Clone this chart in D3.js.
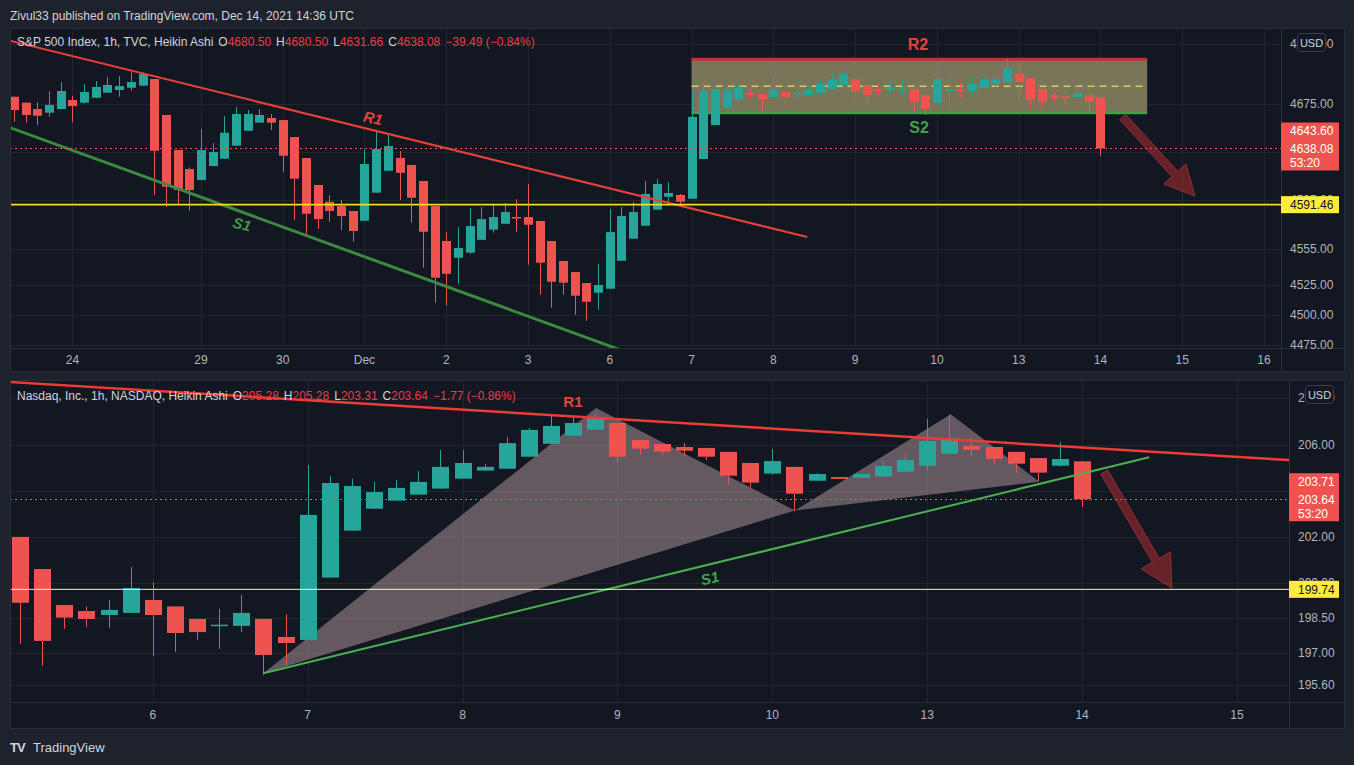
<!DOCTYPE html>
<html><head><meta charset="utf-8">
<script src="https://cdn.jsdelivr.net/npm/d3@7"></script>
<style>
html,body{margin:0;padding:0;background:#1e222d;overflow:hidden;}
svg{display:block;}
text{font-family:"Liberation Sans",Arial,sans-serif;}
</style></head><body>
<svg id="c" width="1354" height="765"></svg>
<script>
// ---------------- DATA ----------------
// S&P 500 (TVC) 1h Heikin Ashi candles [open, high, low, close], Nov 23 (last bars) .. Dec 14
const spxCandles = [
 [4681.0,4681.0,4660.3,4670.0],[4676.1,4676.1,4659.5,4665.9],[4670.8,4676.6,4657.5,4665.3],[4667.8,4685.8,4664.4,4674.2],[4670.8,4693.2,4670.8,4685.8],
 [4678.3,4681.9,4660.0,4673.3],[4676.1,4691.6,4675.2,4684.9],[4680.2,4694.1,4680.2,4689.1],[4684.4,4697.4,4684.4,4690.8],[4686.6,4698.2,4681.0,4689.9],[4688.5,4701.8,4686.0,4693.2],[4690.2,4701.3,4690.2,4699.9],
 [4695.7,4695.7,4599.4,4636.2],[4665.9,4665.9,4589.7,4606.3],[4636.8,4636.8,4592.0,4603.6],[4621.0,4622.4,4586.4,4603.6],
 [4611.9,4654.2,4611.9,4636.8],[4623.5,4642.6,4623.5,4635.1],[4629.6,4665.0,4629.6,4651.2],[4640.4,4672.5,4640.4,4666.7],[4652.8,4670.0,4652.8,4666.7],[4659.5,4670.8,4659.5,4665.9],[4663.4,4666.7,4653.4,4659.5],
 [4661.7,4661.7,4618.8,4632.1],[4647.6,4647.6,4578.7,4613.0],[4630.2,4630.2,4565.7,4583.9],[4607.8,4607.8,4571.2,4579.5],[4593.9,4599.5,4577.3,4586.2],[4590.3,4595.3,4570.4,4582.0],[4586.2,4586.2,4560.7,4569.6],
 [4578.1,4637.4,4578.1,4625.2],[4601.4,4652.6,4601.4,4637.6],[4619.6,4650.9,4619.6,4640.1],[4630.2,4636.0,4595.3,4617.9],[4624.4,4624.4,4576.5,4597.2],[4611.1,4611.1,4539.1,4569.0],[4590.3,4590.3,4510.0,4530.8],
 [4561.3,4568.7,4507.6,4534.1],[4547.4,4572.9,4525.8,4555.5],[4551.6,4588.7,4550.7,4573.7],[4562.3,4589.5,4562.3,4579.5],[4570.7,4592.0,4568.2,4581.2],[4575.6,4592.8,4575.6,4585.3],[4581.2,4596.1,4569.0,4580.6],
 [4581.2,4608.6,4541.6,4574.8],[4577.9,4577.9,4516.7,4543.3],[4561.3,4561.3,4505.9,4527.5],[4544.7,4544.7,4516.7,4526.7],[4535.5,4535.5,4500.1,4515.9],[4526.4,4526.4,4495.1,4510.9],[4518.4,4542.2,4504.3,4524.8],
 [4521.7,4587.8,4521.7,4568.7],[4544.9,4589.5,4544.9,4582.0],[4563.2,4593.7,4563.2,4585.3],[4574.0,4611.1,4574.0,4600.3],[4587.3,4612.7,4587.3,4608.6],[4598.0,4610.2,4592.2,4601.1],[4599.5,4600.3,4589.7,4593.9],
 [4596.4,4686.0,4596.4,4664.4],[4629.3,4693.2,4629.3,4685.8],[4657.5,4691.3,4657.5,4687.2],[4671.9,4690.8,4671.9,4686.6],[4678.6,4691.6,4678.6,4688.5],[4684.1,4689.3,4678.3,4682.5],[4683.3,4683.3,4668.6,4679.1],
 [4680.8,4697.6,4680.8,4687.2],[4684.9,4684.9,4674.2,4680.8],[4683.0,4687.4,4680.2,4684.4],[4682.5,4690.5,4682.5,4686.6],[4684.1,4694.9,4684.1,4691.8],[4687.4,4699.9,4687.4,4695.7],[4690.8,4704.0,4690.8,4699.9],
 [4695.7,4695.7,4679.1,4685.2],[4690.8,4690.8,4675.0,4682.5],[4687.2,4691.6,4680.8,4685.8],[4686.9,4693.2,4684.4,4688.3],[4686.4,4693.8,4683.3,4687.4],[4687.4,4687.4,4668.6,4676.7],[4682.5,4682.5,4665.9,4670.8],
 [4675.8,4704.0,4675.8,4695.7],[4685.8,4699.1,4670.0,4687.4],[4687.2,4693.2,4680.0,4685.8],[4685.8,4697.4,4684.1,4691.6],[4688.5,4698.2,4688.5,4695.7],[4691.6,4699.1,4687.4,4695.7],[4693.2,4712.3,4693.2,4704.9],
 [4699.9,4709.0,4678.3,4693.2],[4696.6,4696.6,4671.7,4678.3],[4687.4,4687.4,4671.4,4676.7],[4682.5,4684.7,4676.7,4680.2],[4681.6,4686.6,4674.2,4680.0],[4680.8,4689.7,4680.8,4684.1],[4682.5,4688.8,4668.1,4676.7],
 [4680.50,4680.50,4631.66,4638.08]
];
const spxTickIdx    = [5,16,23,30,37,44,51,58,65,72,79,86,93,100,107];
const spxTickLabels = ["24","29","30","Dec","2","3","6","7","8","9","10","13","14","15","16"];
const spxPriceTicks = [4475,4500,4525,4555,4595,4635,4675,4725];
const spxChange = [-39.49, -0.84];
const spxTagPrices = [4643.60, 4638.08];
const spxLevel = 4591.46;
const spxR1 = [[-0.4,4727.6],[67.9,4564.6]];
const spxS1 = [[-0.4,4655.6],[55.0,4460.0]];
const spxZoneIdx = [58,97];
const spxZonePrices = [4712.1,4689.8,4667.5];
const spxArrow = [[94.9,4664.2],[101.1,4598.6]];

// Nasdaq Inc. (NASDAQ) 1h Heikin Ashi candles [open, high, low, close], Dec 3 (last bars) .. Dec 14
const ndaqCandles = [
 [202.01,202.01,197.38,199.16],[200.62,200.62,196.43,197.51],[199.06,199.06,198.03,198.52],[198.80,199.00,198.11,198.46],[198.63,199.28,198.07,198.85],[198.72,200.71,198.72,199.80],
 [199.28,200.06,196.86,198.63],[199.00,199.00,197.03,197.85],[198.46,198.46,197.55,197.89],[198.17,198.89,197.16,198.21],[198.16,199.50,197.89,198.72],[198.46,198.46,196.04,196.90],[197.68,198.67,196.43,197.42],
 [197.55,205.12,197.55,202.96],[200.25,204.64,200.25,204.34],[202.28,204.52,202.28,204.21],[203.23,204.39,203.23,203.95],[203.58,204.47,203.58,204.13],[203.84,204.86,203.84,204.39],[204.10,205.77,204.10,205.04],
 [204.53,205.77,204.53,205.21],[204.88,205.17,204.88,205.04],[204.96,206.33,204.96,206.07],[205.48,206.72,205.48,206.64],[206.04,207.29,206.04,206.81],[206.39,207.24,206.39,206.94],[206.65,207.37,206.65,207.19],
 [206.94,206.94,205.22,205.48],[206.20,206.20,205.57,205.83],[206.03,206.03,205.55,205.70],[205.90,206.07,205.52,205.74],[205.86,205.86,205.34,205.48],[205.69,205.69,204.27,204.66],[205.21,205.21,204.14,204.36],
 [204.75,205.81,204.70,205.29],[205.04,205.04,203.13,203.88],[204.44,204.78,204.44,204.73],[204.60,204.60,204.52,204.52],[204.57,204.73,204.57,204.73],[204.62,205.29,204.62,205.08],[204.83,205.64,204.83,205.34],
 [205.09,207.11,204.88,206.16],[205.61,207.29,205.57,206.29],[205.94,206.25,205.52,205.78],[205.90,205.90,205.18,205.39],[205.69,205.69,204.79,205.18],[205.42,205.42,204.40,204.79],[205.09,206.12,205.05,205.38],
 [205.28,205.28,203.31,203.64]
];
const ndaqTickIdx    = [6,13,20,27,34,41,48,55];
const ndaqTickLabels = ["6","7","8","9","10","13","14","15"];
const ndaqPriceTicks = [195.6,197,198.5,200,202,204,206,208];
const ndaqChange = [-1.77, -0.86];
const ndaqTagPrices = [203.71, 203.64];
const ndaqLevel = 199.74;
const ndaqR1 = [[-0.6,208.72],[57.4,205.33]];
const ndaqS1 = [[11.0,196.11],[51.03,205.46]];
const ndaqPattern1 = [[11.0,196.11],[26.03,207.59],[35.02,203.15]];
const ndaqPattern2 = [[35.02,203.15],[42.06,207.32],[46.06,204.40]];
const ndaqArrow = [[49.0,204.82],[52.06,199.80]];

// ---------------- STYLE ----------------
const BG="#131722", FRAME="#1e222d", GRID="#222631", BORDER="#2a2e39", TXT="#b2b5be", LAB="#d1d4dc";
const UP="#26a69a", DN="#ef5350", RED="#f23645";
const svg=d3.select("#c");
svg.append("rect").attr("width",1354).attr("height",765).attr("fill",FRAME);

svg.append("text").attr("x",10).attr("y",19.5).attr("fill",LAB).attr("font-size",12)
  .text("Zivul33 published on TradingView.com, Dec 14, 2021 14:36 UTC");

function arrowPath(p1,p2,sw,hw,hl){
  const dx=p2[0]-p1[0], dy=p2[1]-p1[1], L=Math.hypot(dx,dy), ux=dx/L, uy=dy/L, nx=-uy, ny=ux;
  const bx=p2[0]-ux*hl, by=p2[1]-uy*hl;
  const pts=[[p1[0]+nx*sw/2,p1[1]+ny*sw/2],[bx+nx*sw/2,by+ny*sw/2],[bx+nx*hw/2,by+ny*hw/2],p2,
             [bx-nx*hw/2,by-ny*hw/2],[bx-nx*sw/2,by-ny*sw/2],[p1[0]-nx*sw/2,p1[1]-ny*sw/2]];
  return "M"+pts.map(p=>p[0].toFixed(1)+","+p[1].toFixed(1)).join("L")+"Z";
}

function panel(P){
  const g=svg.append("g");
  const x=P.x, y=P.y;
  g.append("rect").attr("x",P.ox0+0.5).attr("y",P.oy0+0.5).attr("width",P.ox1-P.ox0-1).attr("height",P.oy1-P.oy0-1)
    .attr("fill",BG).attr("stroke",BORDER);
  const cid=P.id+"-clip";
  svg.append("clipPath").attr("id",cid).append("rect").attr("x",P.ox0+1).attr("y",P.oy0+1)
    .attr("width",P.px1-P.ox0-1).attr("height",P.py1-P.oy0-1);
  const plot=g.append("g").attr("clip-path","url(#"+cid+")");
  // grid
  plot.selectAll("line.gh").data(P.priceTicks).join("line").attr("class","gh")
    .attr("x1",P.ox0).attr("x2",P.px1).attr("y1",d=>Math.round(y(d))+0.5).attr("y2",d=>Math.round(y(d))+0.5)
    .attr("stroke",GRID).attr("stroke-width",1);
  plot.selectAll("line.gv").data(P.tickIdx).join("line").attr("class","gv")
    .attr("x1",d=>Math.round(x(d))+0.5).attr("x2",d=>Math.round(x(d))+0.5).attr("y1",P.oy0).attr("y2",P.py1)
    .attr("stroke",GRID).attr("stroke-width",1);
  // axis separators
  g.append("line").attr("x1",P.px1+0.5).attr("x2",P.px1+0.5).attr("y1",P.oy0).attr("y2",P.oy1).attr("stroke",BORDER);
  g.append("line").attr("x1",P.ox0).attr("x2",P.ox1).attr("y1",P.py1+0.5).attr("y2",P.py1+0.5).attr("stroke",BORDER);
  // under-candle drawings
  P.under && P.under(plot,x,y);
  // candles
  const c=P.candles, bw=P.bw;
  plot.selectAll("line.wick").data(c).join("line").attr("class","wick")
    .attr("x1",(d,i)=>Math.round(x(i))+0.5).attr("x2",(d,i)=>Math.round(x(i))+0.5)
    .attr("y1",d=>y(d[1])).attr("y2",d=>y(d[2]))
    .attr("stroke",d=>d[3]>=d[0]?UP:DN).attr("stroke-width",1);
  plot.selectAll("rect.body").data(c).join("rect").attr("class","body")
    .attr("x",(d,i)=>Math.round(x(i))+0.5-bw/2).attr("width",bw)
    .attr("y",d=>y(Math.max(d[0],d[3])))
    .attr("height",d=>Math.max(1.5,Math.abs(y(d[0])-y(d[3]))))
    .attr("fill",d=>d[3]>=d[0]?UP:DN);
  // over drawings
  P.over && P.over(plot,x,y);
  // last price dotted line & level line
  const last=c[c.length-1][3];
  plot.append("line").attr("x1",P.ox0).attr("x2",P.px1).attr("y1",Math.round(y(last))+0.5).attr("y2",Math.round(y(last))+0.5)
    .attr("stroke",DN).attr("stroke-width",1).attr("stroke-dasharray","2,3");
  plot.append("line").attr("x1",P.ox0).attr("x2",P.px1).attr("y1",y(P.level)).attr("y2",y(P.level))
    .attr("stroke",P.levelColor).attr("stroke-width",P.levelWidth);
  // header
  const o=c[c.length-1];
  const f=v=>v.toFixed(2);
  const parts=[{t:P.title,c:LAB,dx:0},{t:"O",c:LAB,dx:5},{t:f(o[0]),c:RED,dx:0},{t:"H",c:LAB,dx:5},{t:f(o[1]),c:RED,dx:0},
    {t:"L",c:LAB,dx:5},{t:f(o[2]),c:RED,dx:0},{t:"C",c:LAB,dx:5},{t:f(o[3]),c:RED,dx:0},
    {t:(P.change[0]).toFixed(2).replace("-","\u2212")+" ("+P.change[1].toFixed(2).replace("-","\u2212")+"%)",c:RED,dx:5}];
  const ht=g.append("text").attr("x",P.ox0+7).attr("y",P.headY).attr("font-size",12).style("white-space","pre");
  ht.selectAll("tspan").data(parts).join("tspan").attr("dx",d=>d.dx).attr("fill",d=>d.c).text(d=>d.t);
  // price axis labels (those fully under the last-price tag are not drawn, as in the reference)
  const ty=y(last);
  const visTicks=P.priceTicks.filter(d=>Math.abs(y(d)-ty)>26);
  g.selectAll("text.py").data(visTicks).join("text").attr("class","py")
    .attr("x",P.px1+9).attr("y",d=>y(d)+4).attr("fill",TXT).attr("font-size",12).text(d=>d.toFixed(2));
  // x axis labels
  g.selectAll("text.px").data(P.tickIdx).join("text").attr("class","px")
    .attr("x",d=>x(d)).attr("y",P.xLabY).attr("text-anchor","middle").attr("fill",TXT).attr("font-size",12)
    .text((d,i)=>P.tickLabels[i]);
  // USD badge
  g.append("rect").attr("x",P.px1+16.5).attr("y",P.oy0+5.5).attr("width",28).attr("height",18).attr("rx",3)
    .attr("fill",BG).attr("stroke","#3a3e4a");
  g.append("text").attr("x",P.px1+30.5).attr("y",P.oy0+18.5).attr("text-anchor","middle").attr("fill",LAB).attr("font-size",11).text("USD");
  // yellow level tag
  const tw=P.ox1-P.px1-6;
  g.append("rect").attr("x",P.px1).attr("y",y(P.level)-8.5).attr("width",tw).attr("height",17).attr("fill","#ffeb3b");
  g.append("text").attr("x",P.px1+9).attr("y",y(P.level)+4.5).attr("fill","#131722").attr("font-size",12).text(P.level.toFixed(2));
  // red tag
  g.append("rect").attr("x",P.px1).attr("y",ty-26).attr("width",tw).attr("height",48).attr("fill",DN);
  g.append("text").attr("x",P.px1+9).attr("y",ty-13).attr("fill","#fff").attr("font-size",12).text(P.tags[0].toFixed(2));
  g.append("text").attr("x",P.px1+9).attr("y",ty+4.5).attr("fill","#fff").attr("font-size",12).text(P.tags[1].toFixed(2));
  g.append("text").attr("x",P.px1+9).attr("y",ty+18.5).attr("fill","#fff").attr("font-size",12).text("53:20");
}

function lbl(plot,x,y,t,pt,color,size,rot,italic){
  const px=x(pt[0]), py=y(pt[1]);
  plot.append("text").attr("x",px).attr("y",py).attr("text-anchor","middle").attr("dominant-baseline","central")
    .attr("fill",color).attr("font-size",size).attr("font-weight","bold").attr("font-style",italic?"italic":"normal")
    .attr("transform",`rotate(${rot},${px},${py})`).text(t);
}
const line=(x,y)=>d3.line().x(d=>x(d[0])).y(d=>y(d[1]));

// ---------------- TOP PANEL ----------------
panel({
  id:"spx", ox0:10, ox1:1345, oy0:28, oy1:372, px1:1281, py1:348,
  x:d3.scaleLinear().domain([0,107]).range([14,1264]),
  y:d3.scaleLinear().domain([4475,4675]).range([345,104]),
  candles:spxCandles, bw:9, priceTicks:spxPriceTicks, tickIdx:spxTickIdx, tickLabels:spxTickLabels,
  level:spxLevel, levelColor:"#f2dc1f", levelWidth:1.6, tags:spxTagPrices, change:spxChange,
  title:"S&P 500 Index, 1h, TVC, Heikin Ashi", headY:46, xLabY:364,
  under:(p,x,y)=>{
    p.append("rect").attr("x",x(spxZoneIdx[0])).attr("width",x(spxZoneIdx[1])-x(spxZoneIdx[0]))
      .attr("y",y(spxZonePrices[0])).attr("height",y(spxZonePrices[2])-y(spxZonePrices[0])).attr("fill","#787558");
    p.append("line").attr("x1",x(spxZoneIdx[0])).attr("x2",x(spxZoneIdx[1])).attr("y1",y(spxZonePrices[1])).attr("y2",y(spxZonePrices[1]))
      .attr("stroke","#d8cf6a").attr("stroke-width",1.5).attr("stroke-dasharray","7,5");
    p.append("line").attr("x1",x(spxZoneIdx[0])).attr("x2",x(spxZoneIdx[1])).attr("y1",y(spxZonePrices[0])).attr("y2",y(spxZonePrices[0]))
      .attr("stroke","#c4302d").attr("stroke-width",3);
    p.append("line").attr("x1",x(spxZoneIdx[0])).attr("x2",x(spxZoneIdx[1])).attr("y1",y(spxZonePrices[2])).attr("y2",y(spxZonePrices[2]))
      .attr("stroke","#43a047").attr("stroke-width",2.5);
  },
  over:(p,x,y)=>{
    p.append("path").attr("d",line(x,y)(spxR1)).attr("stroke","#e8403a").attr("stroke-width",2).attr("fill","none");
    p.append("path").attr("d",line(x,y)(spxS1)).attr("stroke","#3b8a3f").attr("stroke-width",3).attr("fill","none");
    lbl(p,x,y,"R1",[30.73,4663.4],"#e5433a",15,13,true);
    lbl(p,x,y,"S1",[19.52,4575.4],"#3f9a43",15,14,true);
    lbl(p,x,y,"R2",[77.38,4724.0],"#e5433a",16,0,false);
    lbl(p,x,y,"S2",[77.47,4655.9],"#43a047",16,0,false);
    const a=spxArrow.map(d=>[x(d[0]),y(d[1])]);
    p.append("path").attr("d",arrowPath(a[0],a[1],8,30,30)).attr("fill","rgba(140,38,44,0.7)").attr("stroke","rgba(190,60,60,0.6)");
  }
});

// ---------------- BOTTOM PANEL ----------------
panel({
  id:"ndaq", ox0:10, ox1:1345, oy0:380, oy1:729, px1:1289, py1:702,
  x:d3.scaleLinear().domain([0,55]).range([20,1237]),
  y:d3.scaleLinear().domain([195.6,206]).range([685,444.7]),
  candles:ndaqCandles, bw:17, priceTicks:ndaqPriceTicks, tickIdx:ndaqTickIdx, tickLabels:ndaqTickLabels,
  level:ndaqLevel, levelColor:"#f6f3c8", levelWidth:1, tags:ndaqTagPrices, change:ndaqChange,
  title:"Nasdaq, Inc., 1h, NASDAQ, Heikin Ashi", headY:400, xLabY:719,
  under:(p,x,y)=>{
    [ndaqPattern1,ndaqPattern2].forEach(tri=>{
      p.append("path").attr("d",line(x,y)(tri)+"Z").attr("fill","rgba(200,168,176,0.45)").attr("stroke","none");
    });
  },
  over:(p,x,y)=>{
    p.append("path").attr("d",line(x,y)(ndaqR1)).attr("stroke","#ee3b34").attr("stroke-width",2.5).attr("fill","none");
    p.append("path").attr("d",line(x,y)(ndaqS1)).attr("stroke","#4caf50").attr("stroke-width",2).attr("fill","none");
    lbl(p,x,y,"R1",[24.99,207.85],"#e5433a",15,0,false);
    lbl(p,x,y,"S1",[31.18,200.23],"#43a047",15,-14,true);
    const a=ndaqArrow.map(d=>[x(d[0]),y(d[1])]);
    p.append("path").attr("d",arrowPath(a[0],a[1],8,34,32)).attr("fill","rgba(140,38,44,0.7)").attr("stroke","rgba(190,60,60,0.6)");
  }
});

// footer logo
const ft=svg.append("g");
ft.append("text").attr("x",10).attr("y",752).attr("fill",LAB).attr("font-size",13).attr("font-weight",900).attr("letter-spacing",-1).text("TV");
ft.append("text").attr("x",33).attr("y",752).attr("fill",LAB).attr("font-size",13).text("TradingView");
</script>
</body></html>
